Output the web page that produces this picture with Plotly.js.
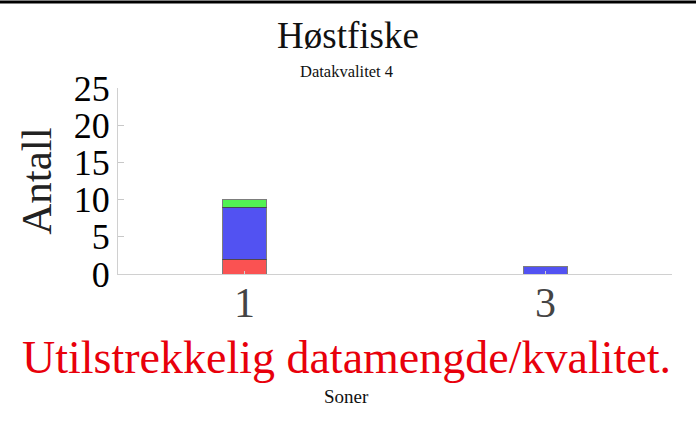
<!DOCTYPE html>
<html>
<head>
<meta charset="utf-8">
<script src="https://cdn.plot.ly/plotly-3.0.1.min.js"></script>
<style>html,body{margin:0;padding:0;background:#fff;}#chart{width:696px;height:424px;}</style>
</head>
<body>
<div id="chart"></div>
<script>
const soner = [1, 3];
const tickLabels = ['1', '3'];
const rod = [2, null];
const bla = [7, 1];
const gronn = [1, null];
const yTicks = [0, 5, 10, 15, 20, 25];

const FONT = 'Liberation Serif, Times New Roman, serif';
const line = {color: 'rgba(70,70,70,0.7)', width: 1};
const traces = [
  {type: 'bar', x: soner, y: rod, width: 0.29, marker: {color: 'rgb(250,82,82)', line: line}, showlegend: false, hoverinfo: 'skip'},
  {type: 'bar', x: soner, y: bla, width: 0.29, marker: {color: 'rgb(82,82,242)', line: line}, showlegend: false, hoverinfo: 'skip'},
  {type: 'bar', x: soner, y: gronn, width: 0.29, marker: {color: 'rgb(82,242,82)', line: line}, showlegend: false, hoverinfo: 'skip'}
];
const cx = (346 - 118) / 554;
const layout = {
  width: 696, height: 424,
  margin: {l: 118, r: 24, t: 88, b: 150},
  paper_bgcolor: '#fff', plot_bgcolor: '#fff',
  barmode: 'stack',
  font: {family: FONT, color: '#000'},
  title: {text: 'Høstfiske', font: {family: FONT, size: 37, color: '#111'}, x: 0.5, xref: 'container', y: 1 - 35/424, yref: 'container', yanchor: 'middle'},
  xaxis: {
    range: [0.16, 3.84], tickvals: soner, ticktext: tickLabels,
    showgrid: false, zeroline: false, showline: true, linecolor: '#d0d0d0', linewidth: 1,
    ticks: 'inside', ticklen: 3, tickcolor: '#d0d0d0',
    ticklabelstandoff: -8,
    tickfont: {family: FONT, size: 42, color: '#444'}
  },
  yaxis: {
    range: [0, 25], tickvals: yTicks,
    showgrid: false, zeroline: false, showline: true, linecolor: '#d0d0d0', linewidth: 1,
    ticks: 'inside', ticklen: 6, tickcolor: '#c8c8c8',
    tickfont: {family: FONT, size: 36, color: '#000'},
    title: {text: 'Antall', font: {family: FONT, size: 43, color: '#222'}, standoff: 8}
  },
  annotations: [
    {text: 'Datakvalitet 4', xref: 'paper', yref: 'paper', x: cx, y: 1, yshift: 17, yanchor: 'middle', showarrow: false, font: {family: FONT, size: 16.5, color: '#111'}},
    {text: 'Utilstrekkelig datamengde/kvalitet.', xref: 'paper', yref: 'paper', x: cx, y: 0, yshift: -83, yanchor: 'middle', showarrow: false, font: {family: FONT, size: 46, color: '#e8000b'}},
    {text: 'Soner', xref: 'paper', yref: 'paper', x: cx, y: 0, yshift: -122, yanchor: 'middle', showarrow: false, font: {family: FONT, size: 19, color: '#111'}}
  ],
  shapes: [
    {type: 'line', xref: 'paper', yref: 'paper', x0: -118/554, x1: 1 + 24/554, y0: (274 - 2)/186, y1: (274 - 2)/186, line: {color: '#000', width: 3}}
  ]
};
Plotly.newPlot('chart', traces, layout, {staticPlot: true, displayModeBar: false});
</script>
</body>
</html>
